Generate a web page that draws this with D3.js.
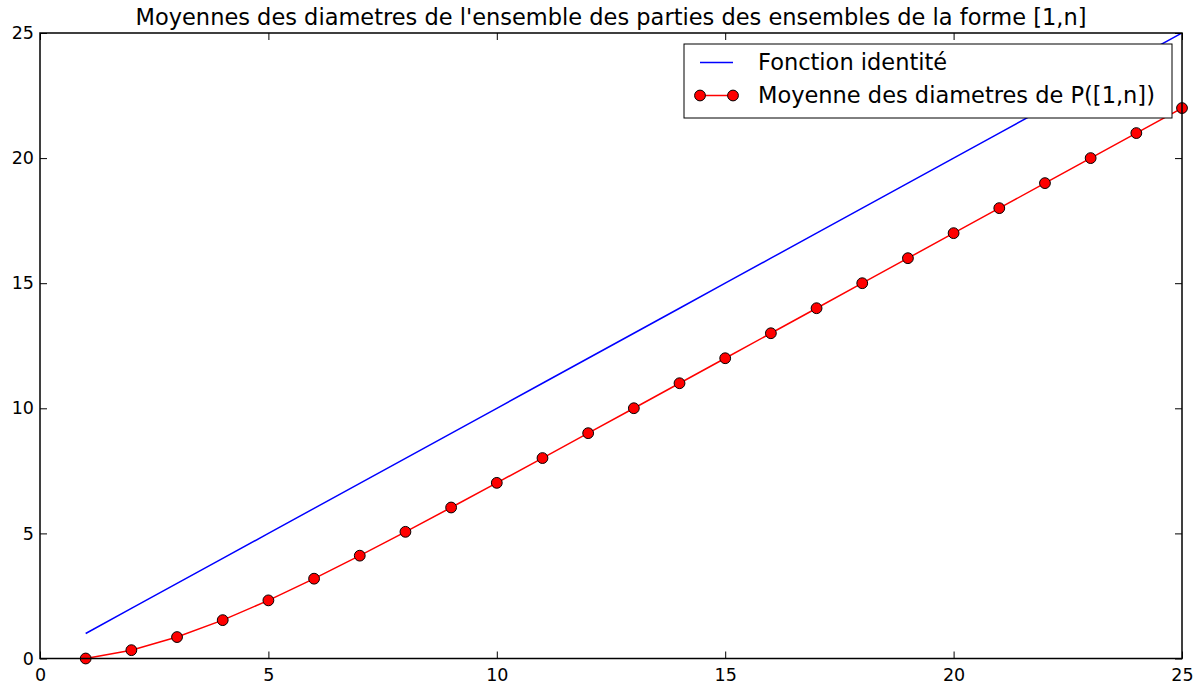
<!DOCTYPE html>
<html>
<head>
<meta charset="utf-8">
<script src="https://cdn.jsdelivr.net/npm/d3@7"></script>
<style>
  html, body { margin: 0; padding: 0; background: #fff; }
  svg { display: block; font-family: "DejaVu Sans", sans-serif; }
</style>
</head>
<body>
<svg id="chart" width="1199" height="685"></svg>
<script>
// n values for the sets [1,n]
const nValues = [1, 2, 3, 4, 5, 6, 7, 8, 9, 10, 11, 12, 13, 14, 15, 16, 17, 18, 19, 20, 21, 22, 23, 24, 25];
// mean diameter of the non-empty subsets of [1,n]
const meanDiameters = [0, 0.333, 0.857, 1.533, 2.323, 3.190, 4.110, 5.063, 6.035, 7.020, 8.011, 9.006, 10.003, 11.002, 12.001,
                       13, 14, 15, 16, 17, 18, 19, 20, 21, 22];
// identity function y = n
const identityValues = [1, 2, 3, 4, 5, 6, 7, 8, 9, 10, 11, 12, 13, 14, 15, 16, 17, 18, 19, 20, 21, 22, 23, 24, 25];
const xTicks = [0, 5, 10, 15, 20, 25];
const yTicks = [0, 5, 10, 15, 20, 25];
const titleText = "Moyennes des diametres de l'ensemble des parties des ensembles de la forme [1,n]";
const legendLabels = ["Fonction identité", "Moyenne des diametres de P([1,n])"];

const svg = d3.select("#chart");
const plotLeft = 40, plotRight = 1182, plotTop = 33, plotBottom = 658.5;

const x = d3.scaleLinear().domain([0, 25]).range([plotLeft, plotRight]);
const y = d3.scaleLinear().domain([0, 25]).range([plotBottom, plotTop]);

const tickLen = 7;

// plot contents, clipped to axes
svg.append("clipPath").attr("id", "clip")
  .append("rect").attr("x", plotLeft).attr("y", plotTop)
  .attr("width", plotRight - plotLeft).attr("height", plotBottom - plotTop);

const plot = svg.append("g").attr("clip-path", "url(#clip)");

const line = d3.line().x(d => x(d[0])).y(d => y(d[1]));

plot.append("path")
  .datum(nValues.map((n, i) => [n, identityValues[i]]))
  .attr("d", line)
  .attr("fill", "none").attr("stroke", "#0000ff").attr("stroke-width", 1.5);

const meanData = nValues.map((n, i) => [n, meanDiameters[i]]);
plot.append("path")
  .datum(meanData)
  .attr("d", line)
  .attr("fill", "none").attr("stroke", "#ff0000").attr("stroke-width", 1.5);

svg.append("g").selectAll("circle").data(meanData).join("circle")
  .attr("cx", d => x(d[0])).attr("cy", d => y(d[1])).attr("r", 5.4)
  .attr("fill", "#ff0000").attr("stroke", "#000").attr("stroke-width", 1);

// axes: ticks on all four sides, pointing inward
const axisB = d3.axisBottom(x).tickValues(xTicks).tickSizeInner(-tickLen).tickSizeOuter(0).tickPadding(10);
const axisT = d3.axisTop(x).tickValues(xTicks).tickSizeInner(-tickLen).tickSizeOuter(0).tickFormat("");
const axisL = d3.axisLeft(y).tickValues(yTicks).tickSizeInner(-tickLen).tickSizeOuter(0).tickPadding(6);
const axisR = d3.axisRight(y).tickValues(yTicks).tickSizeInner(-tickLen).tickSizeOuter(0).tickFormat("");

function styleAxis(g) {
  g.select(".domain").remove();
  g.selectAll(".tick line").attr("stroke", "#000").attr("stroke-width", 1);
  g.selectAll(".tick text").attr("fill", "#000").style("font-size", "17.5px").style("font-family", "DejaVu Sans");
}

svg.append("g").attr("transform", `translate(0,${plotBottom})`).call(axisB).call(styleAxis);
svg.append("g").attr("transform", `translate(0,${plotTop})`).call(axisT).call(styleAxis);
svg.append("g").attr("transform", `translate(${plotLeft},0)`).call(axisL).call(styleAxis);
svg.append("g").attr("transform", `translate(${plotRight},0)`).call(axisR).call(styleAxis);

// frame
svg.append("rect")
  .attr("x", plotLeft).attr("y", plotTop).attr("width", plotRight - plotLeft).attr("height", plotBottom - plotTop)
  .attr("fill", "none").attr("stroke", "#000").attr("stroke-width", 1.5);

// title
svg.append("text")
  .attr("x", (plotLeft + plotRight) / 2).attr("y", 25)
  .attr("text-anchor", "middle")
  .style("font-size", "22.5px")
  .text(titleText);

// legend
const lg = svg.append("g");
lg.append("rect")
  .attr("x", 684).attr("y", 44).attr("width", 488).attr("height", 74)
  .attr("fill", "#fff").attr("stroke", "#000").attr("stroke-width", 1);

const rowY = [62.5, 95.5];
lg.append("line").attr("x1", 700).attr("x2", 733).attr("y1", rowY[0]).attr("y2", rowY[0])
  .attr("stroke", "#0000ff").attr("stroke-width", 1.5);
lg.append("line").attr("x1", 700).attr("x2", 733).attr("y1", rowY[1]).attr("y2", rowY[1])
  .attr("stroke", "#ff0000").attr("stroke-width", 1.5);
[700, 733].forEach(cx => lg.append("circle").attr("cx", cx).attr("cy", rowY[1]).attr("r", 5.4)
  .attr("fill", "#ff0000").attr("stroke", "#000").attr("stroke-width", 1));

legendLabels.forEach((t, i) => {
  lg.append("text").attr("x", 758).attr("y", rowY[i]).attr("dy", "0.35em")
    .style("font-size", "22.5px").text(t);
});
</script>
</body>
</html>
